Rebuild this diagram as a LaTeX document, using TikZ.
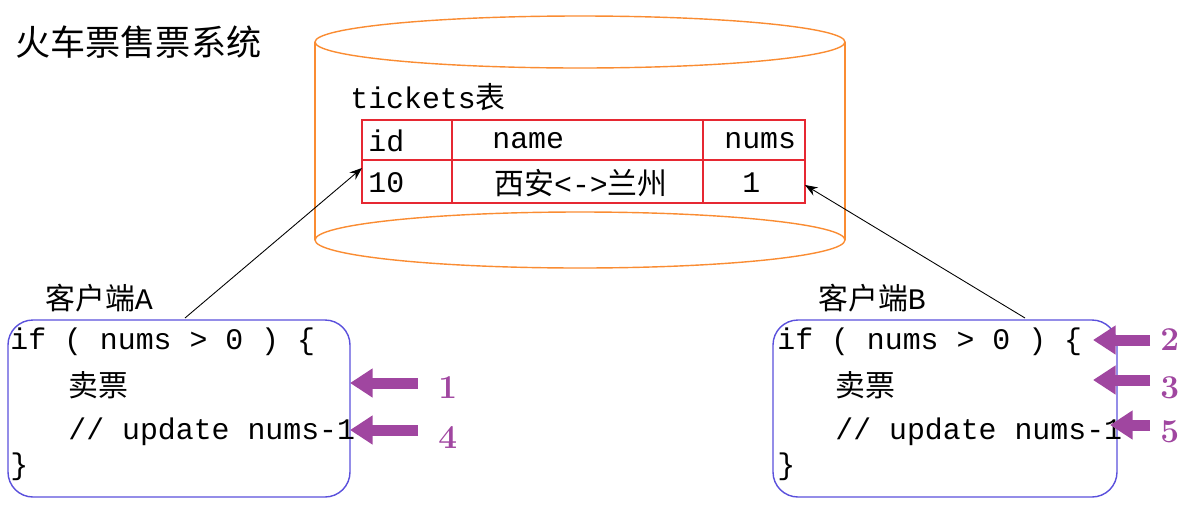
\documentclass[tikz,border=0pt]{standalone}
\usepackage{fontspec}
\setmonofont{Liberation Mono}
\newfontfamily\cjk{Noto Sans CJK SC}
\usetikzlibrary{arrows.meta}
\definecolor{cylorange}{RGB}{250,140,50}
\definecolor{tabred}{RGB}{230,40,50}
\definecolor{boxblue}{RGB}{90,80,220}
\definecolor{markpurple}{RGB}{160,70,160}
\tikzset{
  code/.style={anchor=west,inner sep=0pt,font=\fontsize{17}{20}\selectfont\ttfamily},
  cell/.style={anchor=west,inner sep=0pt,font=\fontsize{17}{20}\selectfont\ttfamily},
  client/.style={draw=boxblue,line width=0.8pt,rounded corners=0.5cm},
  orderarrow/.style={-{Triangle[length=0.45cm,width=0.55cm]},line width=0.22cm,markpurple},
  marknum/.style={anchor=west,inner sep=0pt,text=markpurple,font=\fontsize{19}{20}\selectfont\bfseries},
}
\begin{document}
\begin{tikzpicture}[x=0.02cm,y=-0.02cm]
    \useasboundingbox (0,0) rectangle (1193,511);
    % Title
    \node[code,font=\fontsize{20}{22}\selectfont] (title) at (15,42) {\cjk 火车票售票系统};

    % Cylinder
    \draw[cylorange,line width=0.8pt] (315,42) -- (315,240);
    \draw[cylorange,line width=0.8pt] (845,42) -- (845,240);
    \draw[cylorange,line width=0.8pt] (580,42) ellipse (265 and 26);
    \draw[cylorange,line width=0.8pt] (580,240) ellipse (265 and 28);

    % Table
    \node[cell] (tname) at (350,97) {tickets{\cjk 表}};
    \draw[tabred,line width=0.8pt] (362,120) rectangle (805,203);
    \draw[tabred,line width=0.8pt] (362,160) -- (805,160);
    \draw[tabred,line width=0.8pt] (452,120) -- (452,203);
    \draw[tabred,line width=0.8pt] (703,120) -- (703,203);
    \node[cell] (hid) at (368,141) {id};
    \node[cell] (hname) at (492,141) {name};
    \node[cell] (hnums) at (724,141) {nums};
    \node[cell] (vid) at (368,183) {10};
    \node[cell] (vname) at (494,183) {{\cjk 西安}<->{\cjk 兰州}};
    \node[cell] (vnums) at (742,183) {1};
    \coordinate (rowA) at (362,168);
    \coordinate (rowB) at (805,185);

    % Client A
    \node[code] (labA) at (45,298) {{\cjk 客户端}A};
    \draw[client] (8,320) rectangle (350,497);
    \node[code] (a1) at (10,342) {if ( nums > 0 ) \{};
    \node[code] (a2) at (68,385) {\cjk 卖票};
    \node[code] (a3) at (68,432) {// update nums-1};
    \node[code] (a4) at (10,467) {\}};

    % Client B
    \node[code] (labB) at (818,298) {{\cjk 客户端}B};
    \draw[client] (773,320) rectangle (1117,497);
    \node[code] (b1) at (777,342) {if ( nums > 0 ) \{};
    \node[code] (b2) at (835,385) {\cjk 卖票};
    \node[code] (b3) at (835,432) {// update nums-1};
    \node[code] (b4) at (777,467) {\}};

    % Requests
    \coordinate (fromA) at (185,318);
    \coordinate (fromB) at (1025,318);
    \draw[-{Stealth[length=0.25cm]},line width=0.5pt] (fromA) -- (rowA);
    \draw[-{Stealth[length=0.25cm]},line width=0.5pt] (fromB) -- (rowB);

    % Order marks
    \node[marknum] (m1) at (438,388) {1};
    \node[marknum] (m4) at (438,438) {4};
    \node[marknum] (m2) at (1160,340) {2};
    \node[marknum] (m3) at (1160,388) {3};
    \node[marknum] (m5) at (1160,432) {5};
    \draw[orderarrow] (418,383) -- (350,383);
    \draw[orderarrow] (418,430) -- (350,430);
    \draw[orderarrow] (1150,340) -- (1093,340);
    \draw[orderarrow] (1150,380) -- (1093,380);
    \draw[orderarrow] (1150,425) -- (1110,425);
\end{tikzpicture}
\end{document}
